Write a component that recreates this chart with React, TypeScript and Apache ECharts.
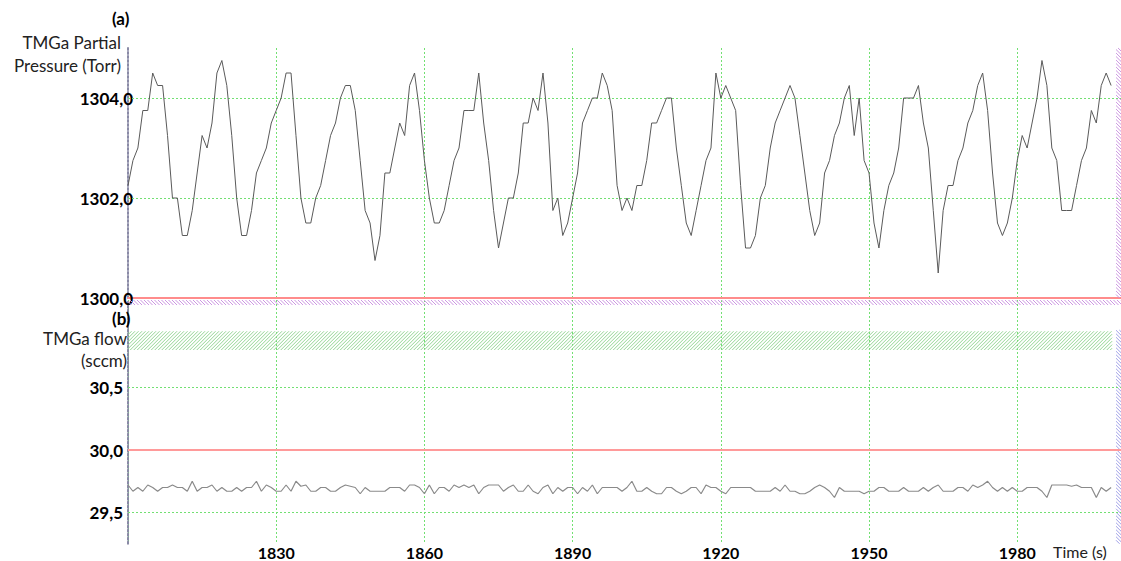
import React, { useEffect, useRef } from "react";
import * as echarts from "echarts";

const T0 = 1800;
const X_MIN = 1800;
const X_MAX = 2001;
const X_TICKS = [1830, 1860, 1890, 1920, 1950, 1980];

// TMGa partial pressure (Torr), one sample per second from t = 1800 s
const pressure = [
  1302.25, 1302.75, 1303.0, 1303.75, 1303.75, 1304.5, 1304.25, 1304.25, 1303.25, 1302.0,
  1302.0, 1301.25, 1301.25, 1301.75, 1302.5, 1303.25, 1303.0, 1303.5, 1304.5, 1304.75,
  1304.25, 1303.25, 1302.0, 1301.25, 1301.25, 1301.75, 1302.5, 1302.75, 1303.0, 1303.5,
  1303.75, 1304.0, 1304.5, 1304.5, 1303.25, 1302.0, 1301.5, 1301.5, 1302.0, 1302.25,
  1302.75, 1303.25, 1303.5, 1304.0, 1304.25, 1304.25, 1303.75, 1302.75, 1301.75, 1301.5,
  1300.75, 1301.25, 1302.5, 1302.5, 1303.0, 1303.5, 1303.25, 1304.25, 1304.5, 1303.75,
  1302.75, 1302.0, 1301.5, 1301.5, 1301.75, 1302.25, 1302.75, 1303.0, 1303.75, 1303.75,
  1303.75, 1304.5, 1303.5, 1302.75, 1301.75, 1301.0, 1301.5, 1302.0, 1302.0, 1302.5,
  1303.5, 1303.5, 1304.0, 1303.75, 1304.5, 1303.5, 1301.75, 1302.0, 1301.25, 1301.5,
  1302.0, 1302.5, 1303.5, 1303.75, 1304.0, 1304.0, 1304.5, 1304.25, 1303.75, 1302.25,
  1301.75, 1302.0, 1301.75, 1302.25, 1302.25, 1302.75, 1303.5, 1303.5, 1303.75, 1304.0,
  1304.0, 1303.0, 1302.25, 1301.5, 1301.25, 1301.75, 1302.25, 1302.75, 1303.0, 1304.5,
  1304.0, 1304.25, 1304.0, 1303.75, 1302.25, 1301.0, 1301.0, 1301.25, 1302.0, 1302.25,
  1303.0, 1303.5, 1303.75, 1304.0, 1304.25, 1304.0, 1303.25, 1302.5, 1301.75, 1301.25,
  1301.5, 1302.5, 1302.75, 1303.25, 1303.5, 1304.0, 1304.25, 1303.25, 1304.0, 1302.75,
  1302.5, 1301.5, 1301.0, 1301.75, 1302.25, 1302.5, 1303.0, 1304.0, 1304.0, 1304.0,
  1304.25, 1303.5, 1303.0, 1301.75, 1300.5, 1301.75, 1302.25, 1302.25, 1302.75, 1303.0,
  1303.5, 1303.75, 1304.25, 1304.5, 1303.75, 1302.5, 1301.5, 1301.25, 1301.5, 1302.0,
  1302.75, 1303.25, 1303.0, 1303.5, 1304.0, 1304.75, 1304.25, 1303.0, 1302.75, 1301.75,
  1301.75, 1301.75, 1302.25, 1302.75, 1303.0, 1303.75, 1303.5, 1304.25, 1304.5, 1304.25,
];

// TMGa flow (sccm), one sample per second from t = 1800 s
const flow = [
  29.72, 29.67, 29.70, 29.67, 29.72, 29.70, 29.67, 29.70, 29.70, 29.72,
  29.70, 29.70, 29.67, 29.75, 29.67, 29.70, 29.70, 29.72, 29.67, 29.70,
  29.67, 29.67, 29.70, 29.67, 29.70, 29.70, 29.75, 29.67, 29.72, 29.70,
  29.67, 29.67, 29.72, 29.67, 29.75, 29.71, 29.72, 29.67, 29.67, 29.70,
  29.70, 29.67, 29.67, 29.70, 29.72, 29.71, 29.70, 29.65, 29.70, 29.67,
  29.67, 29.67, 29.67, 29.70, 29.70, 29.70, 29.67, 29.72, 29.72, 29.70,
  29.65, 29.72, 29.65, 29.70, 29.70, 29.67, 29.72, 29.70, 29.72, 29.70,
  29.72, 29.65, 29.70, 29.72, 29.72, 29.72, 29.67, 29.70, 29.72, 29.67,
  29.67, 29.72, 29.67, 29.65, 29.70, 29.72, 29.65, 29.70, 29.67, 29.70,
  29.70, 29.65, 29.70, 29.67, 29.72, 29.65, 29.70, 29.70, 29.70, 29.70,
  29.67, 29.70, 29.75, 29.67, 29.67, 29.70, 29.67, 29.65, 29.65, 29.70,
  29.70, 29.67, 29.65, 29.67, 29.70, 29.70, 29.65, 29.72, 29.70, 29.70,
  29.67, 29.65, 29.70, 29.70, 29.70, 29.70, 29.70, 29.67, 29.67, 29.67,
  29.67, 29.70, 29.67, 29.72, 29.67, 29.67, 29.65, 29.65, 29.67, 29.70,
  29.72, 29.70, 29.67, 29.62, 29.70, 29.67, 29.67, 29.67, 29.67, 29.65,
  29.67, 29.67, 29.70, 29.70, 29.67, 29.67, 29.67, 29.70, 29.67, 29.67,
  29.67, 29.70, 29.67, 29.70, 29.72, 29.67, 29.67, 29.67, 29.70, 29.70,
  29.67, 29.72, 29.70, 29.72, 29.75, 29.70, 29.67, 29.70, 29.67, 29.70,
  29.67, 29.67, 29.70, 29.70, 29.70, 29.67, 29.62, 29.72, 29.72, 29.72,
  29.72, 29.71, 29.72, 29.70, 29.70, 29.70, 29.62, 29.70, 29.67, 29.70,
];

const TOP_Y_TICKS = [1300, 1302, 1304];
const TOP_GRIDLINES = [1302, 1304];
const TOP_RANGE = [1300, 1305];
const BOTTOM_Y_TICKS = [29.5, 30.0, 30.5];
const BOTTOM_GRIDLINES = [29.5, 30.5];
const BOTTOM_REFLINE = 30.0;
const BOTTOM_RANGE = [29.25, 31.2];

// hatched bands: [x0, x1, y0, y1, colour index, direction (0 = "/", 1 = "\")]
const HATCH_COLORS = ["#94d694", "#cc96e2", "#a0a0e8"];
const topBands = [[2000, 2001, 1300, 1305, 1, 1]];
const bottomBands = [
  [1800, 1999.2, 30.8, 30.95, 0, 0],
  [1800, 2001, 31.16, 31.2, 1, 1],
  [2000, 2001, 29.25, 30.96, 2, 1],
];

const FONT = "Lato, 'Open Sans', sans-serif";
const FS = 17;

const fmt = (v: number, d: number) => v.toFixed(d).replace(".", ",");
const near = (v: number, list: number[]) => list.some((t) => Math.abs(t - v) < 1e-6);

function renderHatch(params: any, api: any) {
  const p0 = api.coord([api.value(0), api.value(2)]);
  const p1 = api.coord([api.value(1), api.value(3)]);
  const x0 = Math.min(p0[0], p1[0]);
  const x1 = Math.max(p0[0], p1[0]);
  const y0 = Math.min(p0[1], p1[1]);
  const y1 = Math.max(p0[1], p1[1]);
  const color = HATCH_COLORS[api.value(4)];
  const dir = api.value(5);
  const step = 3.5;
  const children: any[] = [];
  if (dir === 0) {
    for (let c = x0 + y0; c <= x1 + y1; c += step) {
      const xa = Math.max(x0, c - y1);
      const xb = Math.min(x1, c - y0);
      if (xb <= xa) continue;
      children.push({
        type: "line",
        shape: { x1: xa, y1: c - xa, x2: xb, y2: c - xb },
        style: { stroke: color, lineWidth: 1 },
        silent: true,
      });
    }
  } else {
    for (let c = x0 - y1; c <= x1 - y0; c += step) {
      const xa = Math.max(x0, c + y0);
      const xb = Math.min(x1, c + y1);
      if (xb <= xa) continue;
      children.push({
        type: "line",
        shape: { x1: xa, y1: xa - c, x2: xb, y2: xb - c },
        style: { stroke: color, lineWidth: 1 },
        silent: true,
      });
    }
  }
  return { type: "group", children };
}

export default function App() {
  const ref = useRef<HTMLDivElement>(null);

  useEffect(() => {
    if (!ref.current) return;
    const chart = echarts.init(ref.current, null, { renderer: "svg" });

    const gridGreen = { color: "#72e072", type: [2, 2] as any, width: 1 };

    const pData = pressure.map((v, i) => [T0 + i, v]);
    const fData = flow.map((v, i) => [T0 + i, v]);

    const xCommon = {
      type: "value" as const,
      min: X_MIN,
      max: X_MAX,
      interval: 30,
      axisTick: { show: false },
      splitLine: { show: true, lineStyle: gridGreen },
    };

    const yLabel = {
      color: "#000",
      fontFamily: FONT,
      fontWeight: "bold",
      fontSize: FS,
    };

    const option: any = {
      animation: false,
      backgroundColor: "#ffffff",
      grid: [
        { left: 128, top: 48, width: 993, height: 250 },
        { left: 128, top: 300, width: 993, height: 243.75 },
      ],
      xAxis: [
        {
          ...xCommon,
          gridIndex: 0,
          axisLine: { show: true, lineStyle: { color: "#ff8c8c", width: 2 } },
          axisLabel: { show: false },
        },
        {
          ...xCommon,
          gridIndex: 1,
          axisLine: { show: false },
          axisLabel: {
            ...yLabel,
            fontSize: 16,
            lineHeight: 15,
            show: true,
            margin: 1,
            showMinLabel: false,
            showMaxLabel: false,
            formatter: (v: number) => (near(v, X_TICKS) ? String(v) : ""),
          },
        },
      ],
      yAxis: [
        {
          type: "value",
          gridIndex: 0,
          min: TOP_RANGE[0],
          max: TOP_RANGE[1],
          interval: 1,
          axisLine: { show: true, lineStyle: { color: "#8a8aa6", type: [2, 2], width: 2 } },
          axisTick: { show: false },
          splitLine: { show: false },
          axisLabel: {
            ...yLabel,
            margin: -5,
            formatter: (v: number) => (near(v, TOP_Y_TICKS) ? fmt(v, 1) : ""),
          },
        },
        {
          type: "value",
          gridIndex: 1,
          min: BOTTOM_RANGE[0],
          max: BOTTOM_RANGE[1],
          interval: 0.25,
          axisLine: { show: true, lineStyle: { color: "#8a8aa6", type: [2, 2], width: 2 } },
          axisTick: { show: false },
          splitLine: { show: false },
          axisLabel: {
            ...yLabel,
            margin: 5,
            formatter: (v: number) => (near(v, BOTTOM_Y_TICKS) ? fmt(v, 1) : ""),
          },
        },
      ],
      series: [
        {
          type: "custom",
          xAxisIndex: 0,
          yAxisIndex: 0,
          data: topBands,
          renderItem: renderHatch,
          silent: true,
          z: 1,
        },
        {
          type: "custom",
          xAxisIndex: 1,
          yAxisIndex: 1,
          data: bottomBands,
          renderItem: renderHatch,
          silent: true,
          z: 1,
        },
        {
          type: "line",
          xAxisIndex: 0,
          yAxisIndex: 0,
          data: pData,
          showSymbol: false,
          symbol: "none",
          lineStyle: { color: "#5a5a5a", width: 1 },
          z: 5,
          markLine: {
            silent: true,
            symbol: "none",
            label: { show: false },
            lineStyle: gridGreen,
            data: TOP_GRIDLINES.map((y) => ({ yAxis: y })),
          },
        },
        {
          type: "line",
          xAxisIndex: 1,
          yAxisIndex: 1,
          data: fData,
          showSymbol: false,
          symbol: "none",
          lineStyle: { color: "#8a8a8a", width: 1.2 },
          z: 5,
          markLine: {
            silent: true,
            symbol: "none",
            label: { show: false },
            lineStyle: gridGreen,
            data: [
              ...BOTTOM_GRIDLINES.map((y) => ({ yAxis: y })),
              { yAxis: BOTTOM_REFLINE, lineStyle: { color: "#ff9a9a", type: "solid", width: 2 } },
            ],
          },
        },
      ],
      graphic: [
        {
          type: "text",
          left: 112,
          top: 10,
          z: 100,
          style: { text: "(a)", font: `bold ${FS}px ${FONT}`, fill: "#000" },
        },
        {
          type: "text",
          right: 1121 - 121,
          top: 34,
          z: 100,
          style: { text: "TMGa Partial", font: `${FS}px ${FONT}`, fill: "#222", textAlign: "right" },
        },
        {
          type: "text",
          right: 1121 - 121,
          top: 57,
          z: 100,
          style: { text: "Pressure (Torr)", font: `${FS}px ${FONT}`, fill: "#222", textAlign: "right" },
        },
        {
          type: "text",
          left: 112,
          top: 310,
          z: 100,
          style: { text: "(b)", font: `bold ${FS}px ${FONT}`, fill: "#000" },
        },
        {
          type: "text",
          right: 1121 - 127,
          top: 330,
          z: 100,
          style: { text: "TMGa flow", font: `${FS}px ${FONT}`, fill: "#222", textAlign: "right" },
        },
        {
          type: "text",
          right: 1121 - 127,
          top: 352,
          z: 100,
          style: { text: "(sccm)", font: `${FS}px ${FONT}`, fill: "#222", textAlign: "right" },
        },
        {
          type: "text",
          left: 1053,
          top: 543,
          z: 100,
          style: { text: "Time (s)", font: `16px ${FONT}`, fill: "#222" },
        },
      ],
    };

    chart.setOption(option);
    return () => chart.dispose();
  }, []);

  return (
    <div
      ref={ref}
      style={{ position: "absolute", left: 0, top: 0, width: 1121, height: 561, background: "#fff" }}
    />
  );
}
